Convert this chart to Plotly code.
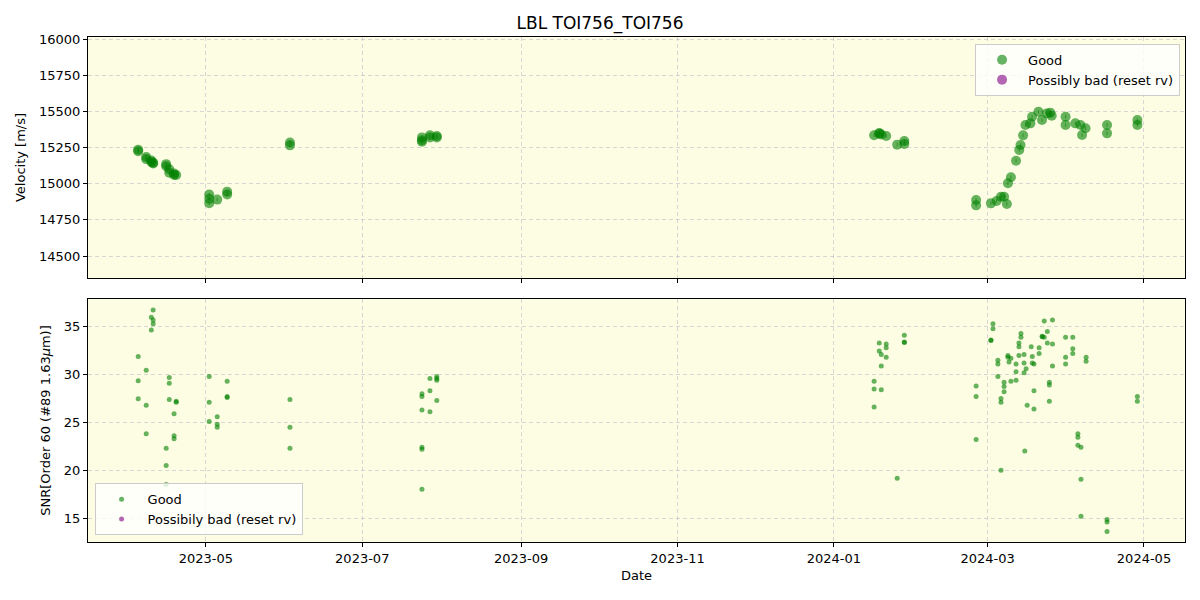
import plotly.graph_objects as go
from plotly.subplots import make_subplots

# ---- Velocity data (Good) ----
rv_dates = [
    "2023-04-04 14:00", "2023-04-04 14:00",
    "2023-04-07 17:00", "2023-04-07 17:00",
    "2023-04-09 17:00", "2023-04-09 17:00",
    "2023-04-10 10:00", "2023-04-10 10:00",
    "2023-04-15 12:00", "2023-04-15 12:00",
    "2023-04-16 17:00", "2023-04-16 17:00",
    "2023-04-18 14:00", "2023-04-18 14:00",
    "2023-04-19 10:00",
    "2023-05-02 07:00", "2023-05-02 07:00", "2023-05-02 07:00",
    "2023-05-05 10:00",
    "2023-05-09 07:00", "2023-05-09 07:00",
    "2023-06-02 19:00", "2023-06-02 19:00",
    "2023-07-24 07:00", "2023-07-24 07:00", "2023-07-24 07:00",
    "2023-07-27 10:00", "2023-07-27 10:00",
    "2023-07-30 02:00", "2023-07-30 02:00",
    "2024-01-16 17:00", "2024-01-18 17:00", "2024-01-18 17:00",
    "2024-01-19 12:00", "2024-01-21 10:00", "2024-01-25 17:00",
    "2024-01-28 12:00", "2024-01-28 12:00",
    "2024-02-25 12:00", "2024-02-25 12:00",
    "2024-03-02 07:00", "2024-03-04 12:00", "2024-03-06 05:00",
    "2024-03-07 10:00", "2024-03-08 12:00",
    "2024-03-08 22:00", "2024-03-10 02:00",
    "2024-03-12 02:00", "2024-03-13 08:00", "2024-03-13 20:00",
    "2024-03-14 20:00", "2024-03-15 18:00",
    "2024-03-17 16:00", "2024-03-18 08:00",
    "2024-03-20 20:00", "2024-03-22 05:00", "2024-03-24 02:00",
    "2024-03-25 10:00", "2024-03-26 00:00",
    "2024-03-31 10:00", "2024-03-31 10:00",
    "2024-04-04 05:00", "2024-04-06 05:00", "2024-04-06 20:00",
    "2024-04-08 05:00",
    "2024-04-16 14:00", "2024-04-16 14:00",
    "2024-04-28 10:00", "2024-04-28 10:00",
]
rv_values = [
    15235, 15225,
    15185, 15170,
    15160, 15150,
    15145, 15140,
    15135, 15120,
    15100, 15075,
    15070, 15060,
    15060,
    14925, 14895, 14865,
    14890,
    14945, 14925,
    15285, 15265,
    15320, 15300, 15290,
    15335, 15320,
    15330, 15320,
    15335, 15350, 15345,
    15340, 15330, 15270,
    15295, 15275,
    14887, 14850,
    14864, 14880, 14910,
    14910, 14860,
    15003, 15044,
    15159, 15233, 15267,
    15334, 15406,
    15417, 15463,
    15497, 15440, 15486,
    15491, 15470,
    15463, 15406,
    15417, 15406, 15336,
    15383,
    15406, 15348,
    15440, 15406,
]
rv_errors = [12] * len(rv_values)

# ---- SNR data (Good) ----
snr_dates = [
    "2023-04-10 10:00", "2023-04-09 17:00", "2023-04-10 10:00", "2023-04-10 10:00", "2023-04-09 17:00",
    "2023-04-04 14:00", "2023-04-07 17:00", "2023-04-04 14:00", "2023-04-16 17:00", "2023-04-16 17:00",
    "2023-04-04 14:00", "2023-04-07 17:00", "2023-04-16 17:00", "2023-04-19 10:00", "2023-04-19 10:00",
    "2023-04-18 14:00", "2023-04-07 17:00", "2023-04-18 14:00", "2023-04-18 14:00",
    "2023-04-15 12:00", "2023-04-15 12:00", "2023-04-15 12:00",
    "2023-05-02 07:00", "2023-05-02 07:00", "2023-05-02 07:00",
    "2023-05-05 10:00", "2023-05-05 10:00", "2023-05-05 10:00",
    "2023-05-09 07:00", "2023-05-09 07:00", "2023-05-09 07:00",
    "2023-06-02 19:00", "2023-06-02 19:00", "2023-06-02 19:00",
    "2023-07-24 07:00", "2023-07-24 07:00", "2023-07-24 07:00", "2023-07-24 07:00", "2023-07-24 07:00", "2023-07-24 07:00",
    "2023-07-27 10:00", "2023-07-27 10:00", "2023-07-27 10:00",
    "2023-07-30 02:00", "2023-07-30 02:00", "2023-07-30 02:00", "2023-07-30 02:00",
    "2024-01-16 17:00", "2024-01-16 17:00", "2024-01-16 17:00",
    "2024-01-18 17:00", "2024-01-18 17:00", "2024-01-19 12:00", "2024-01-19 12:00", "2024-01-19 12:00",
    "2024-01-21 10:00", "2024-01-21 10:00", "2024-01-21 10:00",
    "2024-01-25 17:00",
    "2024-01-28 12:00", "2024-01-28 12:00", "2024-01-28 12:00",
    "2024-02-25 12:00", "2024-02-25 12:00", "2024-02-25 12:00",
    "2024-03-02 07:00", "2024-03-02 07:00", "2024-03-03 02:00", "2024-03-03 02:00",
    "2024-03-05 00:00", "2024-03-05 00:00", "2024-03-05 00:00",
    "2024-03-06 05:00", "2024-03-06 05:00", "2024-03-06 05:00",
    "2024-03-07 10:00", "2024-03-07 10:00", "2024-03-07 10:00",
    "2024-03-08 22:00", "2024-03-08 22:00", "2024-03-09 08:00", "2024-03-10 02:00", "2024-03-10 02:00",
    "2024-03-12 02:00", "2024-03-12 02:00", "2024-03-12 02:00",
    "2024-03-13 05:00", "2024-03-13 05:00", "2024-03-13 05:00", "2024-03-14 00:00", "2024-03-14 00:00",
    "2024-03-15 05:00", "2024-03-15 05:00", "2024-03-15 05:00", "2024-03-16 00:00", "2024-03-16 10:00", "2024-03-15 12:00",
    "2024-03-18 00:00", "2024-03-18 10:00", "2024-03-18 10:00", "2024-03-19 02:00", "2024-03-19 02:00", "2024-03-19 02:00",
    "2024-03-21 02:00", "2024-03-21 02:00", "2024-03-22 07:00", "2024-03-22 07:00", "2024-03-23 02:00", "2024-03-23 02:00",
    "2024-03-24 07:00", "2024-03-24 07:00",
    "2024-03-25 02:00", "2024-03-25 02:00", "2024-03-25 02:00",
    "2024-03-26 07:00", "2024-03-26 07:00", "2024-03-26 07:00",
    "2024-03-31 10:00", "2024-03-31 10:00", "2024-03-31 10:00",
    "2024-04-03 05:00", "2024-04-03 05:00", "2024-04-03 05:00",
    "2024-04-05 05:00", "2024-04-05 05:00", "2024-04-05 05:00",
    "2024-04-06 10:00", "2024-04-06 10:00", "2024-04-06 10:00",
    "2024-04-08 10:00", "2024-04-08 10:00",
    "2024-04-16 14:00", "2024-04-16 14:00", "2024-04-16 14:00",
    "2024-04-28 10:00", "2024-04-28 10:00",
]
snr_values = [
    36.75, 36.0, 35.7, 35.3, 34.65,
    31.9, 30.45, 29.35, 29.7, 29.1,
    27.46, 26.8, 27.4, 27.2, 27.1,
    25.9, 23.8, 23.6, 23.3,
    22.3, 20.5, 18.5,
    29.8, 27.1, 25.1,
    25.6, 24.8, 24.5,
    29.3, 27.7, 27.6,
    27.4, 24.5, 22.3,
    28.0, 27.7, 26.3, 22.4, 22.2, 18.0,
    29.6, 28.3, 26.1,
    29.8, 29.6, 29.4, 27.3,
    29.3, 28.5, 26.6,
    33.3, 32.45, 32.1, 30.9, 28.4,
    33.2, 32.8, 31.8,
    19.15,
    34.1, 33.4, 33.35,
    28.8, 27.7, 23.2,
    33.6, 33.55, 35.3, 34.8,
    31.5, 31.1, 29.8,
    27.5, 27.1, 20.0,
    29.2, 28.75, 28.2,
    32.0, 31.8, 31.3, 31.7, 29.3,
    31.1, 30.3, 29.4,
    33.3, 32.9, 32.0, 34.3, 33.9,
    32.1, 31.2, 30.2, 30.6, 26.8, 22.0,
    32.9, 31.9, 31.2, 31.1, 28.3, 26.4,
    32.8, 32.2, 34.0, 33.95, 35.6, 33.9,
    34.5, 33.3,
    29.2, 28.9, 27.2,
    35.7, 33.2, 30.9,
    33.9, 31.8, 31.1,
    33.9, 32.7, 32.2,
    23.8, 23.45, 22.6,
    22.4, 19.05, 15.2,
    31.8, 31.4,
    14.85, 14.6, 13.6,
    27.7, 27.2,
]

# ---- Axis settings ----
x_range = ["2023-03-16", "2024-05-17"]
rv_range = [14348, 16014]
snr_range = [12.5, 37.9]
rv_ticks = [14500, 14750, 15000, 15250, 15500, 15750, 16000]
snr_ticks = [15, 20, 25, 30, 35]

GREEN = "rgba(0,128,0,0.6)"
PURPLE = "rgba(128,0,128,0.6)"
BG = "#fdfde3"
FONT = "DejaVu Sans"

fig = make_subplots(rows=2, cols=1, shared_xaxes=True, vertical_spacing=0.035)

fig.add_trace(go.Scatter(
    x=rv_dates, y=rv_values, mode="markers", name="Good",
    error_y=dict(type="data", array=rv_errors, color=GREEN, thickness=1, width=0),
    marker=dict(color=GREEN, size=10, line=dict(width=0)),
    legend="legend"), row=1, col=1)
fig.add_trace(go.Scatter(
    x=[None], y=[None], mode="markers", name="Possibly bad (reset rv)",
    error_y=dict(type="data", array=[0], color=PURPLE, thickness=1, width=0),
    marker=dict(color=PURPLE, size=10), legend="legend"), row=1, col=1)

fig.add_trace(go.Scatter(
    x=snr_dates, y=snr_values, mode="markers", name="Good",
    marker=dict(color=GREEN, size=5, line=dict(width=0)),
    legend="legend2"), row=2, col=1)
fig.add_trace(go.Scatter(
    x=[None], y=[None], mode="markers", name="Possibily bad (reset rv)",
    marker=dict(color=PURPLE, size=5), legend="legend2"), row=2, col=1)

axis_common = dict(
    showline=True, linecolor="black", linewidth=1, mirror=True,
    ticks="outside", ticklen=4, tickcolor="black", automargin=False,
    showgrid=True, gridcolor="rgba(176,176,200,0.5)", griddash="4px,3px", gridwidth=1,
    zeroline=False, tickfont=dict(family=FONT, size=13, color="black"),
)

fig.update_xaxes(**axis_common, range=x_range, type="date",
                 tick0="2023-05-01", dtick="M2", tickformat="%Y-%m")
fig.update_xaxes(showticklabels=False, row=1, col=1)
fig.update_xaxes(title=dict(text="Date", font=dict(family=FONT, size=13, color="black"), standoff=6),
                 row=2, col=1)

fig.update_yaxes(**axis_common, tickformat="d")
fig.update_yaxes(range=rv_range, tickvals=rv_ticks,
                 title=dict(text="Velocity [m/s]", font=dict(family=FONT, size=13, color="black"), standoff=10),
                 row=1, col=1)
fig.update_yaxes(range=snr_range, tickvals=snr_ticks,
                 title=dict(text="SNR[Order 60 (#89 1.63<i>μ</i>m)]",
                            font=dict(family=FONT, size=13, color="black"), standoff=10),
                 row=2, col=1)

fig.update_layout(
    width=1200, height=600,
    paper_bgcolor="white", plot_bgcolor=BG,
    margin=dict(l=88, r=15, t=0, b=0),
    font=dict(family=FONT, size=13, color="black"),
    title=dict(text="LBL TOI756_TOI756", x=0.5, xanchor="center", y=0.962, yanchor="middle",
               font=dict(family=FONT, size=17, color="black")),
    xaxis=dict(domain=[0, 1]),
    yaxis=dict(domain=[0.5367, 0.9383]),
    yaxis2=dict(domain=[0.0967, 0.5017]),
    legend=dict(x=0.9955, y=0.927, xanchor="right", yanchor="top", itemwidth=42,
                bgcolor="rgba(255,255,255,0.8)", bordercolor="#cccccc", borderwidth=1,
                font=dict(family=FONT, size=13)),
    legend2=dict(x=0.006, y=0.108, xanchor="left", yanchor="bottom", itemwidth=42,
                 bgcolor="rgba(255,255,255,0.8)", bordercolor="#cccccc", borderwidth=1,
                 font=dict(family=FONT, size=13)),
    showlegend=True,
)

fig.write_html("out.html")
